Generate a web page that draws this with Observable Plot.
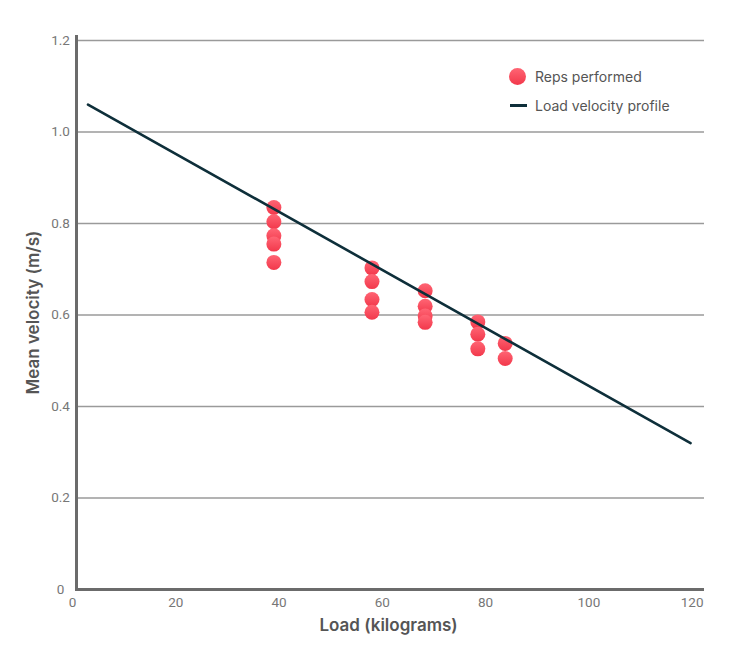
<!DOCTYPE html>
<html>
<head>
<meta charset="utf-8">
<script src="https://cdn.jsdelivr.net/npm/d3@7"></script>
<script src="https://cdn.jsdelivr.net/npm/@observablehq/plot@0.6"></script>
<style>
  body { margin: 0; background: #fff; }
  #wrap { position: relative; width: 750px; height: 660px; }
  #legend { position: absolute; left: 508px; top: 64px; font-family: Inter, Lato, sans-serif; font-size: 14px; color: #555; }
  .li { display: flex; align-items: center; height: 24px; margin-bottom: 5px; }
  .sw { width: 20px; height: 20px; position: relative; margin-right: 7px; }
  .dotsw { position: absolute; left: 1px; top: 2px; width: 17px; height: 17px; border-radius: 50%; background: linear-gradient(#ff6574, #f2384b); }
  .linesw { position: absolute; left: 2px; top: 9px; width: 17px; height: 3px; background: #0e2f3a; }
</style>
</head>
<body>
<div id="wrap">
  <div id="chart"></div>
  <div id="legend">
    <div class="li"><div class="sw"><div class="dotsw"></div></div><span>Reps performed</span></div>
    <div class="li"><div class="sw"><div class="linesw"></div></div><span>Load velocity profile</span></div>
  </div>
</div>
<script>
// Reps performed
const repLoads = [39, 39, 39, 39, 39, 58, 58, 58, 58, 68.3, 68.3, 68.3, 68.3, 78.5, 78.5, 78.5, 83.8, 83.8];
const repVelocities = [0.835, 0.804, 0.773, 0.755, 0.715, 0.703, 0.673, 0.634, 0.606, 0.653, 0.619, 0.598, 0.584, 0.585, 0.558, 0.526, 0.538, 0.505];
// Load velocity profile (line endpoints)
const profileLoads = [3, 119.7];
const profileVelocities = [1.06, 0.32];
// Ticks
const xTicks = [0, 20, 40, 60, 80, 100, 120];
const yTicks = [0, 0.2, 0.4, 0.6, 0.8, 1.0, 1.2];

const reps = repLoads.map((x, i) => ({load: x, v: repVelocities[i]}));
const profile = profileLoads.map((x, i) => ({load: x, v: profileVelocities[i]}));

const tickFont = "Roboto, sans-serif";
const titleFont = "Inter, Lato, sans-serif";

const chart = Plot.plot({
  width: 750,
  height: 660,
  marginLeft: 72,
  marginRight: 46,
  marginTop: 35,
  marginBottom: 71,
  x: {domain: [0, 122.4], axis: null},
  y: {domain: [0, 1.211], axis: null},
  marks: [
    Plot.ruleY(yTicks.filter(d => d > 0), {y: d => d, stroke: "#9a9a9a", strokeWidth: 1.5, insetLeft: 4}),
    Plot.ruleY([0], {y: d => d, stroke: "#6b6b6b", strokeWidth: 3, insetLeft: 3}),
    Plot.ruleX([0], {x: d => d, dx: 4, stroke: "#6b6b6b", strokeWidth: 3}),
    Plot.text(yTicks, {y: d => d, frameAnchor: "left", dx: -12, textAnchor: "middle", text: d => d === 0 ? "0" : d.toFixed(1), fontFamily: tickFont, fontWeight: 400, fontSize: 13.5, fill: "#777"}),
    Plot.text(xTicks, {x: d => d, frameAnchor: "bottom", dy: 17, text: d => String(d), fontFamily: tickFont, fontWeight: 400, fontSize: 13.5, fill: "#777"}),
    Plot.text(["Load (kilograms)"], {frameAnchor: "bottom", dy: 41, textAnchor: "middle", fontFamily: titleFont, fontWeight: 600, fontSize: 17, fill: "#555"}),
    Plot.text(["Mean velocity (m/s)"], {frameAnchor: "left", dx: -39, textAnchor: "middle", rotate: -90, fontFamily: titleFont, fontWeight: 600, fontSize: 17, fill: "#555"}),
    Plot.dot(reps, {x: "load", y: "v", r: 7.5, fill: "url(#dotGrad)", stroke: "none"}),
    Plot.line(profile, {x: "load", y: "v", stroke: "#0e2f3a", strokeWidth: 2.6})
  ]
});

const svgNS = "http://www.w3.org/2000/svg";
const defs = document.createElementNS(svgNS, "defs");
defs.innerHTML = '<linearGradient id="dotGrad" x1="0" y1="0" x2="0" y2="1"><stop offset="0" stop-color="#ff6574"/><stop offset="1" stop-color="#f2384b"/></linearGradient>';
chart.insertBefore(defs, chart.firstChild);
document.getElementById("chart").appendChild(chart);
</script>
</body>
</html>
